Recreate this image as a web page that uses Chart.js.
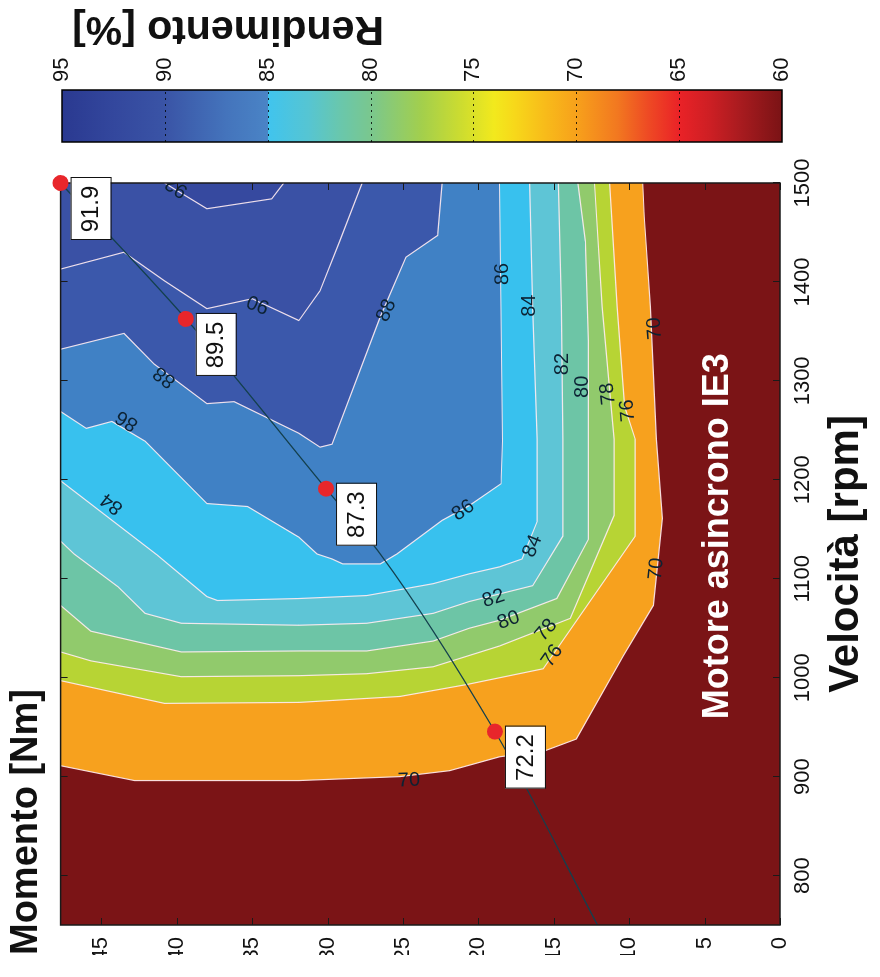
<!DOCTYPE html>
<html>
<head>
<meta charset="utf-8">
<script src="https://cdn.jsdelivr.net/npm/chart.js@4.4.0/dist/chart.umd.min.js"></script>
<style>
  html, body { margin: 0; padding: 0; background: #fff; overflow: hidden; }
  body { width: 880px; height: 977px; position: relative; }
  /* the figure is built upright (977 x 880) and turned a quarter left, like the scan */
  #figure { position: absolute; left: 0; top: 0; width: 977px; height: 880px;
            transform-origin: 0 0; transform: translate(0, 977px) rotate(-90deg); }
  #mainChart { position: absolute; left: 0; top: 0; }
  #barChart { position: absolute; left: 820px; top: 0; }
</style>
</head>
<body>
<div id="figure">
  <canvas id="mainChart" width="830" height="880"></canvas>
  <canvas id="barChart" width="157" height="880"></canvas>
</div>
<script>
// ==================== DATI ====================

const SPEED_MIN = 750, SPEED_MAX = 1500;
const TORQUE_MAX = 47.7;

const speedTicks = [800, 900, 1000, 1100, 1200, 1300, 1400, 1500];
const torqueTicks = [0, 5, 10, 15, 20, 25, 30, 35, 40, 45];
const effTicks = [60, 65, 70, 75, 80, 85, 90, 95];

// curve di livello del rendimento: [velocità rpm, momento Nm]
const c70 = [[911, 47.7], [896, 42.8], [896, 31.9], [900, 25.2], [906, 21.9], [920, 18.6], [926, 15.6], [938, 13.5], [1022, 10.4], [1073, 8.4], [1161, 7.8], [1241, 8.2], [1375, 8.6], [1466, 9.0], [1500, 9.1]];
const c76 = [[997, 47.7], [974, 40.8], [975, 31.9], [981, 25.2], [993, 20.8], [1009, 15.7], [1143, 9.6], [1241, 9.6], [1274, 10.3], [1375, 10.8], [1500, 11.3]];
const c78 = [[1026, 47.7], [1017, 45.7], [1001, 39.7], [1002, 31.9], [1004, 27.4], [1011, 23.0], [1032, 18.6], [1060, 13.9], [1164, 11.0], [1241, 11.0], [1274, 11.2], [1375, 11.8], [1500, 12.3]];
const c80 = [[1073, 47.7], [1047, 45.7], [1026, 39.7], [1027, 31.9], [1027, 27.4], [1037, 23.0], [1050, 20.6], [1058, 18.6], [1080, 14.8], [1140, 12.7], [1241, 12.7], [1340, 12.7], [1441, 12.9], [1500, 13.4]];
const c82 = [[1138, 47.7], [1125, 46.8], [1092, 43.9], [1065, 42.1], [1055, 39.7], [1053, 31.9], [1055, 27.4], [1065, 23.0], [1077, 20.6], [1093, 16.4], [1143, 14.4], [1241, 14.4], [1375, 14.5], [1500, 14.7]];
const c84 = [[1199, 47.7], [1124, 41.3], [1082, 38.0], [1078, 37.3], [1080, 31.9], [1083, 27.4], [1095, 23.0], [1105, 20.6], [1112, 18.6], [1120, 17.1], [1158, 16.1], [1241, 16.1], [1375, 16.4], [1500, 16.6]];
const c86 = [[1269, 47.7], [1252, 46.0], [1259, 44.3], [1239, 42.1], [1176, 38.0], [1173, 35.3], [1142, 31.9], [1125, 30.7], [1120, 29.7], [1115, 29.0], [1115, 26.5], [1125, 25.4], [1159, 22.4], [1174, 20.6], [1196, 18.5], [1239, 18.4], [1500, 18.6]];
const c88 = [[1332, 47.7], [1348, 43.5], [1317, 41.5], [1277, 38.0], [1279, 36.2], [1247, 31.9], [1233, 30.5], [1236, 29.7], [1365, 26.5], [1425, 24.8], [1447, 22.7], [1500, 22.4]];
const c90 = [[1413, 47.7], [1430, 43.5], [1401, 40.8], [1373, 38.0], [1383, 35.0], [1361, 31.9], [1391, 30.5], [1441, 29.2], [1500, 27.7]];
const c92 = [[1500, 40.8], [1474, 38.0], [1484, 33.7], [1500, 32.9]];

const levels = [70, 76, 78, 80, 82, 84, 86, 88, 90, 92];
const contours = [c70, c76, c78, c80, c82, c84, c86, c88, c90, c92];

// etichette delle curve: [rpm, Nm, testo, angolo]
const contourLabels = [
  [1378, 34.6, '90', -69], [1304, 40.8, '88', -53], [1260, 43.3, '86', -59], [1176, 44.3, '84', -52],
  [1371, 26.1, '88', 24], [1408, 18.4, '86', -1], [1376, 16.6, '84', 0], [1169, 21.0, '86', 55],
  [1133, 16.4, '84', 22], [1080, 19.0, '82', 72], [1058, 18.0, '80', 70], [1048, 15.5, '78', 40],
  [1022, 15.1, '76', 35], [1317, 14.4, '82', 0], [1294, 13.1, '80', 0], [1287, 11.4, '78', -6],
  [1270, 10.1, '76', -5], [1353, 8.3, '70', -4], [1110, 8.2, '70', 6], [896, 24.6, '70', 88],
  [1496, 40.0, '92', -57]
];

// curva di carico e punti di lavoro
const loadSpeed = [750, 945.5, 1125, 1191, 1363, 1500];
const loadTorque = [12.1, 18.9, 26.5, 30.1, 39.4, 47.7];
const pointSpeed = [945.5, 1191, 1362.6, 1500];
const pointTorque = [18.9, 30.1, 39.4, 47.7];
const pointEff = ['72.2', '87.3', '89.5', '91.9'];

// colori
const belowColor = '#7b1416';
const levelColors = ['#f7a11e', '#b7d434', '#91ca6c', '#6dc5a6', '#5ec5d6', '#38c1ee', '#4081c5', '#3b58ab', '#3a51a5', '#36499f'];
const cbarValues = [60, 62, 63.5, 65, 66.5, 68, 70, 71.5, 73, 74, 75.5, 77.5, 80, 81.5, 83, 84.99, 85, 87, 90, 92.5, 95];
const cbarColors = ['#7a1315', '#a81b1f', '#cd1f24', '#ea2227', '#ee4a24', '#f27820', '#f7a11b', '#f8bb1a', '#f7d81a', '#f2e91d', '#cfdd2e', '#a3cf4c', '#7ac78e', '#69c7ad', '#56c5d2', '#40c4ee', '#4a84c6', '#4474bc', '#3a54a6', '#33479d', '#2a3990'];

const FONT = '"Liberation Sans", Arial, Helvetica, sans-serif';
Chart.defaults.font.family = FONT;
Chart.defaults.color = '#111';

const toXY = arr => arr.map(p => ({ x: p[0], y: p[1] }));
const plainTick = v => String(v);

// ==================== GRAFICO PRINCIPALE ====================

const datasets = [];
contours.forEach((c, i) => {
  // zona con rendimento >= livello, chiusa sull'angolo alto-destro
  datasets.push({
    label: 'zona ' + levels[i],
    data: toXY(c.concat([[SPEED_MAX, TORQUE_MAX]])),
    showLine: true,
    fill: 'shape',
    backgroundColor: levelColors[i],
    borderColor: 'rgba(0,0,0,0)',
    borderWidth: 0,
    pointRadius: 0,
    tension: 0,
    order: 100 - i
  });
  datasets.push({
    label: 'linea ' + levels[i],
    data: toXY(c),
    showLine: true,
    fill: false,
    borderColor: 'rgba(255,236,242,0.9)',
    borderWidth: 1.2,
    pointRadius: 0,
    tension: 0,
    order: 50
  });
});

datasets.push({
  label: 'carico',
  data: loadSpeed.map((s, i) => ({ x: s, y: loadTorque[i] })),
  showLine: true,
  fill: false,
  borderColor: '#14404e',
  borderWidth: 1.3,
  pointRadius: 0,
  cubicInterpolationMode: 'monotone',
  order: 20
});

datasets.push({
  label: 'punti',
  data: pointSpeed.map((s, i) => ({ x: s, y: pointTorque[i] })),
  showLine: false,
  pointRadius: 8,
  pointBackgroundColor: '#e8262b',
  pointBorderWidth: 0,
  clip: false,
  order: 10
});

const overlay = {
  id: 'overlay',
  beforeDraw(chart) {
    const { ctx, chartArea: a } = chart;
    ctx.save();
    ctx.fillStyle = belowColor;
    ctx.fillRect(a.left, a.top, a.width, a.height);
    ctx.restore();
  },
  beforeDatasetDraw(chart, args) {
    if (chart.data.datasets[args.index].label !== 'punti') return;
    const { ctx, chartArea: a, scales: { x, y } } = chart;

    // etichette delle curve
    ctx.save();
    ctx.beginPath();
    ctx.rect(a.left, a.top, a.width, a.height);
    ctx.clip();
    ctx.font = '20px ' + FONT;
    ctx.fillStyle = '#0c2233';
    ctx.textAlign = 'center';
    ctx.textBaseline = 'middle';
    contourLabels.forEach(([s, t, txt, ang]) => {
      ctx.save();
      ctx.translate(x.getPixelForValue(s), y.getPixelForValue(t));
      ctx.rotate(ang * Math.PI / 180);
      ctx.fillText(txt, 0, 0);
      ctx.restore();
    });
    ctx.font = 'bold 36px ' + FONT;
    ctx.fillStyle = '#ffffff';
    ctx.fillText('Motore asincrono IE3', x.getPixelForValue(1143), y.getPixelForValue(4.1));
    ctx.restore();

    // cornice e tacche verso l'interno
    ctx.save();
    ctx.strokeStyle = '#1a1a1a';
    ctx.lineWidth = 1;
    ctx.beginPath();
    speedTicks.forEach(v => {
      const px = Math.round(x.getPixelForValue(v)) + 0.5;
      ctx.moveTo(px, a.bottom); ctx.lineTo(px, a.bottom - 7);
      ctx.moveTo(px, a.top); ctx.lineTo(px, a.top + 7);
    });
    torqueTicks.forEach(v => {
      const py = Math.round(y.getPixelForValue(v)) + 0.5;
      ctx.moveTo(a.left, py); ctx.lineTo(a.left + 7, py);
      ctx.moveTo(a.right, py); ctx.lineTo(a.right - 7, py);
    });
    ctx.stroke();
    ctx.lineWidth = 1.5;
    ctx.strokeRect(a.left, a.top, a.width, a.height);
    ctx.restore();
  },
  afterDatasetsDraw(chart) {
    const { ctx, scales: { x, y } } = chart;
    ctx.save();
    ctx.font = '24px ' + FONT;
    ctx.textAlign = 'center';
    ctx.textBaseline = 'middle';
    pointEff.forEach((txt, i) => {
      const px = x.getPixelForValue(pointSpeed[i]);
      const py = y.getPixelForValue(pointTorque[i]);
      const left = px - 57, top = py + 10, w = 62, h = 40;
      ctx.fillStyle = '#ffffff';
      ctx.fillRect(left, top, w, h);
      ctx.strokeStyle = '#111';
      ctx.lineWidth = 1;
      ctx.strokeRect(left + 0.5, top + 0.5, w, h);
      ctx.fillStyle = '#111';
      ctx.fillText(txt, left + w / 2, top + h / 2 + 1);
    });
    ctx.restore();
  }
};

new Chart(document.getElementById('mainChart'), {
  type: 'scatter',
  data: { datasets: datasets },
  options: {
    responsive: false,
    animation: false,
    devicePixelRatio: 1,
    events: [],
    layout: { padding: { left: 22, right: 36, top: 0, bottom: 0 } },
    plugins: {
      legend: { display: false },
      tooltip: { enabled: false },
      title: {
        display: true,
        text: 'Momento [Nm]',
        align: 'start',
        color: '#111',
        font: { size: 38, weight: 'bold' },
        padding: { top: 4, bottom: 11 }
      }
    },
    scales: {
      x: {
        type: 'linear',
        min: SPEED_MIN,
        max: SPEED_MAX,
        afterBuildTicks: s => { s.ticks = speedTicks.map(v => ({ value: v })); },
        afterFit: s => { s.height = 100; s.paddingLeft = 0; s.paddingRight = 0; },
        grid: { display: false, drawTicks: false },
        border: { display: false },
        ticks: { font: { size: 22 }, padding: 10, maxRotation: 0, autoSkip: false, callback: plainTick },
        title: {
          display: true,
          text: 'Velocità [rpm]',
          color: '#111',
          font: { size: 42, weight: 'bold' },
          padding: { top: 0, bottom: 8 }
        }
      },
      y: {
        type: 'linear',
        min: 0,
        max: TORQUE_MAX,
        afterBuildTicks: s => { s.ticks = torqueTicks.map(v => ({ value: v })); },
        afterFit: s => { s.width = 30; s.paddingTop = 0; s.paddingBottom = 0; },
        grid: { display: false, drawTicks: false },
        border: { display: false },
        ticks: { font: { size: 22 }, padding: 12, autoSkip: false, callback: plainTick }
      }
    }
  },
  plugins: [overlay]
});

// ==================== BARRA DEI COLORI ====================

function cbarGradient(chart) {
  const y = chart.scales.y;
  if (!chart.chartArea || !y) return belowColor;
  const g = chart.ctx.createLinearGradient(0, y.getPixelForValue(60), 0, y.getPixelForValue(95));
  cbarValues.forEach((v, i) => g.addColorStop((v - 60) / 35, cbarColors[i]));
  return g;
}

const cbarOverlay = {
  id: 'cbarOverlay',
  afterDatasetsDraw(chart) {
    const { ctx, chartArea: a, scales: { y } } = chart;
    ctx.save();
    ctx.strokeStyle = 'rgba(0,0,0,0.8)';
    ctx.lineWidth = 1;
    ctx.setLineDash([2, 4]);
    effTicks.forEach(v => {
      if (v <= 60 || v >= 95) return;
      const py = Math.round(y.getPixelForValue(v)) + 0.5;
      ctx.beginPath();
      ctx.moveTo(a.left, py);
      ctx.lineTo(a.right, py);
      ctx.stroke();
    });
    ctx.setLineDash([]);
    ctx.strokeStyle = '#000';
    ctx.lineWidth = 1.5;
    ctx.strokeRect(a.left, a.top, a.width, a.height);

    ctx.translate(a.right + 62, a.top + 166);
    ctx.rotate(-Math.PI / 2);
    ctx.font = 'bold 41px ' + FONT;
    ctx.fillStyle = '#111';
    ctx.textAlign = 'center';
    ctx.textBaseline = 'middle';
    ctx.fillText('Rendimento [%]', 0, 0);
    ctx.restore();
  }
};

new Chart(document.getElementById('barChart'), {
  type: 'bar',
  data: {
    labels: [''],
    datasets: [{
      data: [[60, 95]],
      backgroundColor: ctx => cbarGradient(ctx.chart),
      borderWidth: 0,
      barPercentage: 1,
      categoryPercentage: 1
    }]
  },
  options: {
    responsive: false,
    animation: false,
    devicePixelRatio: 1,
    events: [],
    layout: { padding: { left: 15, right: 0, top: 62, bottom: 98 } },
    plugins: { legend: { display: false }, tooltip: { enabled: false } },
    scales: {
      x: { display: false },
      y: {
        position: 'right',
        min: 60,
        max: 95,
        afterBuildTicks: s => { s.ticks = effTicks.map(v => ({ value: v })); },
        afterFit: s => { s.width = 90; s.paddingTop = 0; s.paddingBottom = 0; },
        grid: { display: false, drawTicks: false },
        border: { display: false },
        ticks: { font: { size: 22 }, padding: 8, autoSkip: false, callback: plainTick }
      }
    }
  },
  plugins: [cbarOverlay]
});
</script>
</body>
</html>
